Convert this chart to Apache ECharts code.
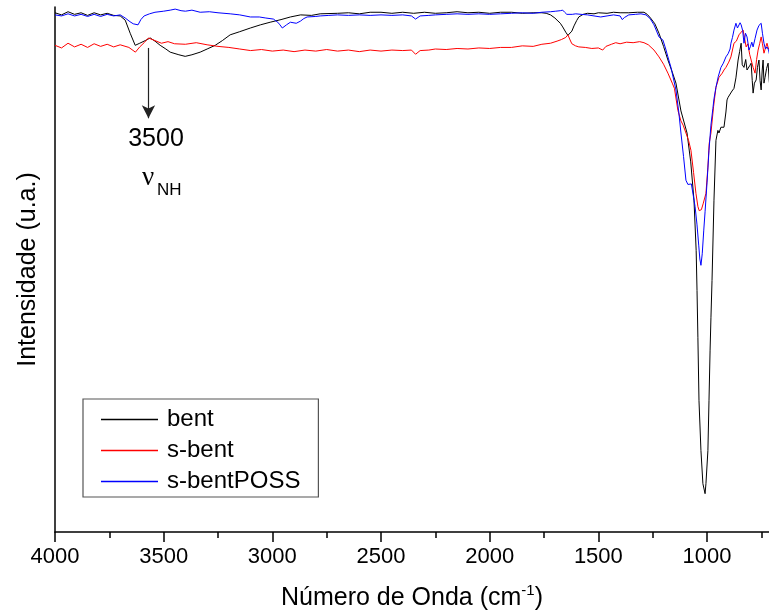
<!DOCTYPE html>
<html>
<head>
<meta charset="utf-8">
<script src="https://cdn.jsdelivr.net/npm/echarts@6/dist/echarts.min.js"></script>
<style>
html,body{margin:0;padding:0;background:#fff;}
#chart{width:769px;height:613px;}
</style>
</head>
<body>
<div id="chart"></div>
<script>
// ---- data (wavenumber cm-1, intensity a.u. 0-100) ----
const seriesNames = ['bent', 's-bent', 's-bentPOSS'];
const seriesColors = ['#000000', '#ff0000', '#0000ff'];
const xTickLabels = ['4000', '3500', '3000', '2500', '2000', '1500', '1000'];

const bentData = [
 [4000,98.9],[3970,98.5],[3940,99.1],[3910,98.6],[3880,98.9],[3850,98.4],[3820,98.9],[3790,98.5],[3760,98.8],[3730,98.4],
 [3700,98.3],[3677,97.5],[3654,95.0],[3631,92.7],[3610,93.1],[3585,93.6],[3562,94.1],[3540,93.5],[3516,92.7],[3490,92.0],
 [3470,91.4],[3430,90.9],[3401,90.6],[3370,90.9],[3332,91.4],[3300,92.0],[3263,92.7],[3230,93.6],[3194,94.7],[3150,95.3],
 [3101,96.0],[3055,96.6],[3010,97.1],[2960,97.6],[2917,98.1],[2870,98.5],[2820,98.4],[2780,98.7],[2700,98.8],[2650,98.9],
 [2600,98.7],[2550,99.0],[2500,99.0],[2450,98.8],[2400,99.0],[2350,98.8],[2300,99.0],[2250,98.8],[2200,98.9],[2150,99.1],
 [2100,98.9],[2050,99.0],[2000,98.8],[1950,99.0],[1900,99.0],[1850,98.8],[1800,98.9],[1760,98.9],[1740,98.8],[1720,98.5],
 [1700,97.9],[1690,97.5],[1675,96.9],[1664,96.2],[1650,95.2],[1640,94.6],[1632,94.7],[1622,95.4],[1612,96.4],[1600,97.4],
 [1590,98.1],[1570,98.6],[1550,98.8],[1520,98.7],[1500,98.9],[1460,98.8],[1430,99.0],[1400,98.9],[1360,98.9],[1320,99.0],
 [1290,99.0],[1275,98.6],[1260,97.9],[1240,96.8],[1221,95.0],[1200,92.5],[1180,89.9],[1160,87.6],[1143,85.5],[1120,80.2],
 [1092,76.0],[1075,70.5],[1060,63.2],[1050,53.6],[1046,46.0],[1042,37.0],[1037,25.0],[1028,15.5],[1019,9.2],[1009,7.3],
 [1005,9.2],[996,15.5],[991,25.0],[986,34.5],[982,40.8],[977,47.9],[968,63.2],[959,74.6],[950,76.5],[945,76.0],
 [936,77.1],[922,77.1],[913,80.0],[908,82.3],[903,82.8],[894,82.8],[885,84.0],[876,84.5],[867,86.5],[857,89.9],
 [850,91.5],[843,93.1],[838,89.0],[830,88.5],[822,90.0],[816,88.0],[811,87.8],[804,88.8],[797,89.3],[792,86.0],
 [788,83.6],[782,85.5],[774,86.1],[768,88.5],[761,89.9],[756,86.0],[751,84.2],[746,88.0],[742,89.9],[738,85.5],
 [733,86.6],[726,88.3],[719,89.3],[714,86.0],[710,84.5]
];

const sBentData = [
 [4000,92.7],[3970,92.2],[3940,93.1],[3910,92.4],[3880,92.9],[3850,92.3],[3820,93.0],[3790,92.5],[3760,92.9],[3730,92.4],
 [3700,92.8],[3660,92.3],[3630,91.4],[3610,92.4],[3590,93.2],[3570,94.1],[3540,93.6],[3510,93.1],[3480,93.4],[3450,93.0],
 [3400,92.9],[3350,93.2],[3300,92.8],[3250,92.5],[3200,92.3],[3150,92.0],[3100,91.7],[3050,91.9],[3000,91.6],[2950,91.8],
 [2900,91.5],[2850,91.8],[2800,91.6],[2750,91.9],[2700,91.6],[2650,91.8],[2600,91.5],[2550,91.8],[2500,91.6],[2450,91.8],
 [2400,91.7],[2360,91.8],[2341,91.0],[2320,91.7],[2280,91.8],[2250,92.0],[2200,91.9],[2150,92.1],[2100,92.0],[2050,92.2],
 [2000,92.1],[1950,92.3],[1900,92.3],[1850,92.6],[1800,92.5],[1760,92.9],[1720,93.1],[1690,93.5],[1670,93.8],[1650,94.2],
 [1640,94.7],[1632,93.9],[1622,93.0],[1605,92.6],[1590,92.4],[1560,92.3],[1530,92.1],[1500,92.2],[1480,91.8],[1465,92.5],
 [1440,92.9],[1420,93.2],[1400,93.0],[1370,93.3],[1340,93.2],[1310,93.4],[1290,93.2],[1270,92.8],[1244,91.8],[1221,90.5],
 [1200,89.1],[1180,87.4],[1160,85.5],[1150,84.5],[1134,80.3],[1120,78.3],[1110,77.5],[1097,76.0],[1085,74.6],[1074,72.7],
 [1062,68.5],[1051,64.5],[1042,62.0],[1036,61.2],[1032,60.9],[1026,61.4],[1018,62.5],[1005,64.5],[996,69.5],[990,74.0],
 [982,76.0],[970,81.0],[959,84.7],[945,86.6],[930,87.4],[922,88.0],[913,88.5],[900,89.5],[890,90.5],[876,93.1],
 [865,93.5],[853,94.7],[843,95.2],[834,95.6],[828,94.2],[820,92.4],[812,93.0],[804,91.0],[797,89.9],[788,88.5],
 [779,87.4],[772,90.0],[765,91.8],[758,93.0],[751,94.3],[745,93.0],[738,91.2],[731,92.2],[724,93.1],[717,92.0],
 [710,92.4]
];

const sBentPossData = [
 [4000,98.5],[3970,98.3],[3940,98.7],[3910,98.3],[3880,98.6],[3850,98.2],[3820,98.6],[3790,98.2],[3760,98.6],[3730,98.3],
 [3700,98.5],[3677,97.9],[3655,97.2],[3640,96.8],[3618,96.6],[3605,97.6],[3590,98.3],[3565,98.7],[3540,99.0],[3500,99.2],
 [3470,99.4],[3447,99.6],[3420,99.3],[3400,99.2],[3370,99.4],[3332,99.0],[3290,99.1],[3250,98.9],[3194,98.7],[3150,98.5],
 [3101,98.1],[3060,98.1],[3030,97.9],[2995,97.7],[2975,97.1],[2965,96.6],[2954,96.0],[2935,96.6],[2917,97.1],[2890,96.9],
 [2871,97.3],[2855,97.8],[2840,98.1],[2800,98.2],[2780,98.3],[2740,98.4],[2700,98.5],[2650,98.4],[2600,98.5],[2550,98.4],
 [2500,98.5],[2450,98.4],[2400,98.5],[2360,98.3],[2341,97.7],[2320,98.3],[2280,98.4],[2250,98.5],[2200,98.6],[2150,98.7],
 [2100,98.6],[2050,98.7],[2000,98.6],[1950,98.7],[1900,98.8],[1850,98.9],[1800,98.8],[1760,99.0],[1720,99.1],[1696,99.2],
 [1675,99.3],[1664,99.4],[1655,99.0],[1645,98.6],[1636,98.5],[1620,98.6],[1604,98.7],[1580,98.6],[1550,98.5],[1520,98.3],
 [1489,98.1],[1460,98.3],[1430,98.5],[1400,98.3],[1390,97.6],[1380,98.0],[1360,98.5],[1330,98.6],[1304,98.7],[1281,98.5],
 [1262,97.8],[1244,96.6],[1221,94.3],[1203,93.7],[1190,92.0],[1180,90.5],[1166,88.5],[1143,84.2],[1130,80.0],[1120,76.0],
 [1108,71.5],[1097,67.0],[1088,66.2],[1080,66.0],[1072,66.3],[1065,66.0],[1055,62.0],[1046,58.5],[1038,54.5],[1033,52.0],
 [1028,50.8],[1022,53.0],[1015,57.5],[1009,61.0],[1000,66.5],[991,72.7],[982,77.5],[973,80.7],[968,82.5],[959,84.7],
 [948,86.8],[936,88.5],[925,89.3],[913,90.5],[903,91.1],[894,92.0],[890,93.1],[883,94.2],[876,95.6],[867,96.9],
 [860,96.0],[853,96.2],[848,97.0],[843,96.6],[836,95.5],[830,93.1],[823,95.0],[816,94.3],[811,93.0],[807,91.8],
 [800,92.5],[794,93.3],[788,92.4],[779,94.0],[770,95.6],[761,96.5],[751,96.9],[745,95.0],[738,93.1],[731,92.0],
 [724,92.4],[717,91.8],[710,90.5]
];

// annotation (data units)
const arrowX = 3570, arrowTopY = 92.2, arrowTipY = 78.8;
const annotationLabel = '3500';

const chart = echarts.init(document.getElementById('chart'), null, {renderer: 'canvas'});
const FONT = '"Liberation Sans", Arial, sans-serif';

const dataSets = [bentData, sBentData, sBentPossData];
const series = seriesNames.map((name, i) => {
  const s = {
    name: name,
    type: 'line',
    data: dataSets[i],
    showSymbol: false,
    symbol: 'none',
    smooth: false,
    lineStyle: {color: seriesColors[i], width: 1},
    itemStyle: {color: seriesColors[i]},
    z: 3 + i,
    silent: true
  };
  if (i === 0) {
    s.markLine = {
      silent: true,
      symbol: ['none', 'arrow'],
      symbolSize: [10, 13],
      label: {show: false},
      lineStyle: {color: '#222', width: 1.2, type: 'solid'},
      data: [[{coord: [arrowX, arrowTopY]}, {coord: [arrowX, arrowTipY]}]],
      animation: false
    };
  }
  return s;
});

const option = {
  backgroundColor: '#ffffff',
  animation: false,
  grid: {left: 55, width: 760.7, top: 7, bottom: 81, containLabel: false, outerBoundsMode: 'none'},
  xAxis: {
    type: 'value',
    inverse: true,
    min: 500,
    max: 4000,
    interval: 500,
    axisLine: {show: true, onZero: false, lineStyle: {color: '#000', width: 1.5}},
    axisTick: {show: true, length: 10, lineStyle: {color: '#000', width: 1.5}},
    minorTick: {show: true, splitNumber: 2, length: 6, lineStyle: {color: '#000', width: 1.5}},
    splitLine: {show: false},
    minorSplitLine: {show: false},
    axisLabel: {
      show: true, margin: 14, color: '#000', fontSize: 22, fontFamily: FONT,
      formatter: v => (xTickLabels.indexOf(String(v)) >= 0 ? String(v) : '')
    }
  },
  yAxis: {
    type: 'value',
    min: 0,
    max: 100,
    name: 'Intensidade (u.a.)',
    nameLocation: 'middle',
    nameRotate: 90,
    nameGap: 14,
    nameTextStyle: {fontSize: 25, fontFamily: FONT, color: '#000'},
    axisLine: {show: true, onZero: false, lineStyle: {color: '#000', width: 1.5}},
    axisTick: {show: false},
    axisLabel: {show: false},
    splitLine: {show: false}
  },
  legend: {
    show: true,
    orient: 'vertical',
    left: 83,
    top: 399,
    data: seriesNames,
    icon: 'rect',
    itemWidth: 57,
    itemHeight: 1.5,
    itemGap: 6,
    padding: [8, 18, 3, 18],
    borderColor: '#555',
    borderWidth: 1.2,
    borderRadius: 0,
    backgroundColor: '#fff',
    selectedMode: false,
    textStyle: {fontSize: 24, fontFamily: FONT, color: '#000', lineHeight: 25, padding: [0, 0, 0, 4]}
  },
  graphic: [
    {
      type: 'text', x: 412, y: 598, z: 10,
      style: {
        text: '{a|Número de Onda (cm}{s|-1}{a|)}',
        align: 'center', verticalAlign: 'middle',
        rich: {
          a: {fontSize: 25, fontFamily: FONT, fill: '#000', lineHeight: 30},
          s: {fontSize: 15, fontFamily: FONT, fill: '#000', lineHeight: 30, verticalAlign: 'top', padding: [0, 0, 14, 0]}
        }
      }
    },
    {
      type: 'text', x: 156, y: 139, z: 10,
      style: {text: annotationLabel, align: 'center', verticalAlign: 'middle', fontSize: 25, fontFamily: FONT, fill: '#000'}
    },
    {
      type: 'text', x: 148, y: 178, z: 10,
      style: {text: 'ν', align: 'center', verticalAlign: 'middle', fontSize: 27, fontFamily: '"Liberation Serif", serif', fill: '#000'}
    },
    {
      type: 'text', x: 157, y: 190, z: 10,
      style: {text: 'NH', align: 'left', verticalAlign: 'middle', fontSize: 17, fontFamily: FONT, fill: '#000'}
    }
  ],
  series: series
};
chart.setOption(option);
</script>
</body>
</html>
